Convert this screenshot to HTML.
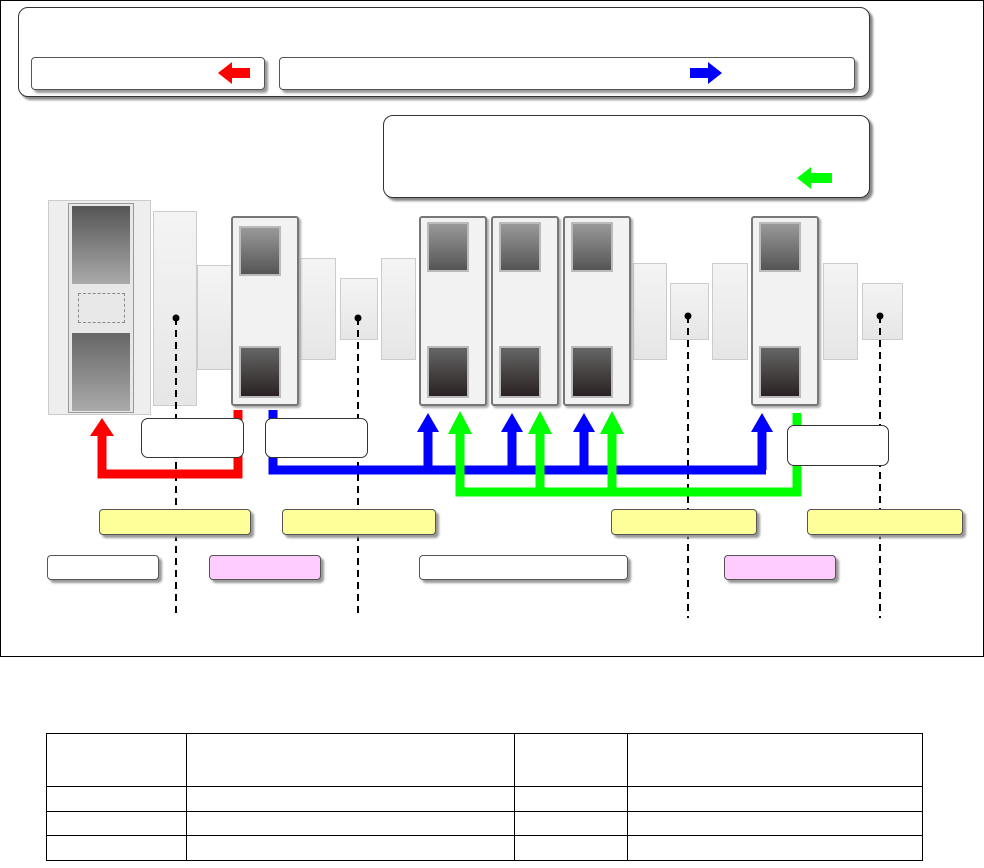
<!DOCTYPE html>
<html><head><meta charset="utf-8"><style>
body{margin:0;width:984px;height:868px;background:#fff;position:relative;overflow:hidden;font-family:"Liberation Sans",sans-serif}
.a{position:absolute;box-sizing:border-box}
.rb{border:1px solid #333;border-radius:10px;background:#fff;box-shadow:3px 3px 2px #888}
.lb{border:1px solid #555;border-radius:4px;box-shadow:3px 3px 2px #999}
.blk{background:linear-gradient(#f4f4f4,#e6e6e6);border:1px solid #ccc}
.mod{border:2px solid #777;border-radius:3px;background:#f2f2f2;box-shadow:2px 2px 2px #aaa}
.scr{position:absolute;left:6px;width:38px;border:2px solid #bbb;background:linear-gradient(#999,#555)}
.scr2{background:linear-gradient(#666,#2a2222)}
table{position:absolute;left:46px;top:733px;border-collapse:collapse}
td{border:1px solid #000;padding:0}
</style></head><body>
<div class="a" style="left:0;top:0;width:984px;height:657px;border:1px solid #000"></div>
<div class="a rb" style="left:18px;top:7px;width:852px;height:90px"></div>
<div class="a lb" style="left:31px;top:57px;width:234px;height:33px;background:#fff"></div>
<div class="a lb" style="left:279px;top:57px;width:576px;height:33px;background:#fff"></div>
<div class="a rb" style="left:383px;top:115px;width:487px;height:83px"></div>
<svg class="a" style="left:0;top:0" width="984" height="868">
<polygon points="218,73 232,62 232,68 250,68 250,78 232,78 232,84" fill="#f00"/>
<polygon points="722,73 708,62 708,68 690,68 690,78 708,78 708,84" fill="#00f"/>
<polygon points="797,178 811,167 811,173 832,173 832,183 811,183 811,189" fill="#0f0"/>
</svg>
<!-- big machine -->
<div class="a" style="left:48px;top:200px;width:103px;height:215px;background:#eee;border:1px solid #ccc"></div>
<div class="a" style="left:68px;top:203px;width:66px;height:210px;border:1px solid #999;background:#e8e8e8"></div>
<div class="a" style="left:72px;top:206px;width:58px;height:78px;background:linear-gradient(#555,#aaa)"></div>
<div class="a" style="left:72px;top:333px;width:58px;height:78px;background:linear-gradient(#666,#aaa)"></div>
<div class="a" style="left:78px;top:293px;width:47px;height:30px;border:1px dashed #888"></div>
<div class="a blk" style="left:153px;top:211px;width:44px;height:195px"></div>
<div class="a blk" style="left:197px;top:265px;width:35px;height:105px"></div>
<div class="a blk" style="left:300px;top:258px;width:36px;height:102px"></div>
<div class="a blk" style="left:340px;top:278px;width:38px;height:62px"></div>
<div class="a blk" style="left:381px;top:258px;width:35px;height:102px"></div>
<div class="a blk" style="left:633px;top:263px;width:34px;height:97px"></div>
<div class="a blk" style="left:670px;top:283px;width:39px;height:57px"></div>
<div class="a blk" style="left:712px;top:263px;width:36px;height:97px"></div>
<div class="a blk" style="left:823px;top:263px;width:35px;height:97px"></div>
<div class="a blk" style="left:862px;top:283px;width:41px;height:57px"></div>
<div class="a mod" style="left:231px;top:216px;width:68px;height:190px"><div class="scr" style="top:8px;height:46px"></div><div class="scr scr2" style="top:128px;height:48px"></div></div>
<div class="a mod" style="left:419px;top:216px;width:68px;height:190px"><div class="scr" style="top:4px;height:46px"></div><div class="scr scr2" style="top:128px;height:48px"></div></div>
<div class="a mod" style="left:491px;top:216px;width:68px;height:190px"><div class="scr" style="top:4px;height:46px"></div><div class="scr scr2" style="top:128px;height:48px"></div></div>
<div class="a mod" style="left:563px;top:216px;width:68px;height:190px"><div class="scr" style="top:4px;height:46px"></div><div class="scr scr2" style="top:128px;height:48px"></div></div>
<div class="a mod" style="left:751px;top:216px;width:68px;height:190px"><div class="scr" style="top:4px;height:46px"></div><div class="scr scr2" style="top:128px;height:48px"></div></div>
<svg class="a" style="left:0;top:0" width="984" height="868">
<g stroke="#000" stroke-width="2" stroke-dasharray="7,5">
<line x1="176" y1="318" x2="176" y2="618"/><line x1="358" y1="318" x2="358" y2="618"/>
<line x1="688" y1="316" x2="688" y2="618"/><line x1="880" y1="316" x2="880" y2="618"/></g>
<g fill="#000"><circle cx="176" cy="318" r="3.5"/><circle cx="358" cy="318" r="3.5"/><circle cx="688" cy="316" r="3.5"/><circle cx="880" cy="316" r="3.5"/></g>
<g fill="none" stroke-width="9">
<path d="M238,410 V474 H102 V432" stroke="#f00"/>
<path d="M273,410 V470 H766" stroke="#00f"/>
<path d="M428,470 V430 M512,470 V430 M584,470 V430 M762,470 V430" stroke="#00f"/>
<path d="M797,413 V492 H460 V430 M540,492 V430 M612,492 V430" stroke="#0f0"/></g>
<g fill="#f00"><polygon points="90,436 114,436 102,418"/></g>
<g fill="#00f"><polygon points="417,432 439,432 428,413"/><polygon points="501,432 523,432 512,413"/><polygon points="573,432 595,432 584,413"/><polygon points="751,432 773,432 762,413"/></g>
<g fill="#0f0"><polygon points="448,434 472,434 460,411"/><polygon points="528,434 552,434 540,411"/><polygon points="600,434 624,434 612,411"/></g>
</svg>
<div class="a" style="left:141px;top:418px;width:103px;height:40px;border:1px solid #333;border-radius:7px;background:#fff"></div>
<div class="a" style="left:265px;top:418px;width:103px;height:40px;border:1px solid #333;border-radius:7px;background:#fff"></div>
<div class="a" style="left:787px;top:425px;width:102px;height:41px;border:1px solid #333;border-radius:7px;background:#fff"></div>
<div class="a lb" style="left:99px;top:509px;width:152px;height:26px;background:#ffff99"></div>
<div class="a lb" style="left:282px;top:509px;width:154px;height:26px;background:#ffff99"></div>
<div class="a lb" style="left:611px;top:509px;width:146px;height:26px;background:#ffff99"></div>
<div class="a lb" style="left:807px;top:509px;width:156px;height:26px;background:#ffff99"></div>
<div class="a lb" style="left:47px;top:555px;width:112px;height:25px;background:#fff"></div>
<div class="a lb" style="left:209px;top:555px;width:112px;height:25px;background:#ffccff"></div>
<div class="a lb" style="left:419px;top:555px;width:209px;height:25px;background:#fff"></div>
<div class="a lb" style="left:724px;top:555px;width:112px;height:25px;background:#ffccff"></div>
<table>
<tr style="height:53px"><td style="width:139px"></td><td style="width:327px"></td><td style="width:112px"></td><td style="width:294px"></td></tr>
<tr style="height:25px"><td></td><td></td><td></td><td></td></tr>
<tr style="height:24px"><td></td><td></td><td></td><td></td></tr>
<tr style="height:25px"><td></td><td></td><td></td><td></td></tr>
</table>
</body></html>
